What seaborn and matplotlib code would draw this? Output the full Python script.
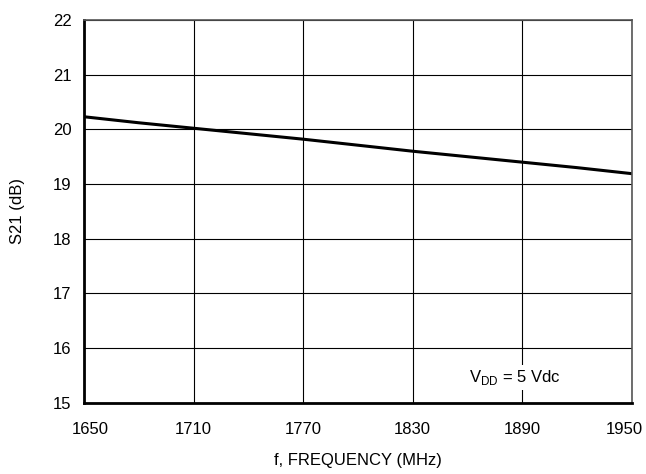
import matplotlib
matplotlib.use("Agg")
import matplotlib.pyplot as plt
import matplotlib.transforms as mtransforms
import seaborn as sns
import pandas as pd

freq = [1650, 1680, 1710, 1740, 1770, 1800, 1830, 1860, 1890, 1920, 1950]
s21 = [20.23, 20.12, 20.02, 19.92, 19.82, 19.71, 19.60, 19.50, 19.40, 19.30, 19.19]
xticks = [1650, 1710, 1770, 1830, 1890, 1950]
yticks = [15, 16, 17, 18, 19, 20, 21, 22]

sns.set_style("white")
plt.rcParams['font.family'] = ['Liberation Sans', 'DejaVu Sans']
plt.rcParams['text.color'] = 'black'
plt.rcParams['axes.labelcolor'] = 'black'
plt.rcParams['xtick.color'] = 'black'
plt.rcParams['ytick.color'] = 'black'

df = pd.DataFrame({'f': freq, 's21': s21})

fig = plt.figure(figsize=(6.46, 4.74), dpi=100)
ax = fig.add_axes([0.130, 0.150, 0.848, 0.808])
sns.lineplot(data=df, x='f', y='s21', color='black', linewidth=2.2, ax=ax)

ax.set_xlim(1650, 1950)
ax.set_ylim(15, 22)
ax.set_xticks(xticks)
ax.set_yticks(yticks)
ax.grid(True, color='black', linewidth=0.8)
ax.tick_params(axis='y', labelsize=12, length=0, pad=9)
ax.tick_params(axis='x', labelsize=12, length=0, pad=14)
ax.set_xlabel('f, FREQUENCY (MHz)', fontsize=12, labelpad=11)
ax.set_ylabel('S21 (dB)', fontsize=12, labelpad=20)

# nudge the end labels inward like the reference
labels = ax.get_xticklabels()
labels[0].set_transform(labels[0].get_transform() + mtransforms.ScaledTranslation(6/100, 0, fig.dpi_scale_trans))
labels[-1].set_transform(labels[-1].get_transform() + mtransforms.ScaledTranslation(-7/100, 0, fig.dpi_scale_trans))

for side in ['top', 'right']:
    ax.spines[side].set_color('#555555')
    ax.spines[side].set_linewidth(1.2)
for side in ['left', 'bottom']:
    ax.spines[side].set_color('black')
    ax.spines[side].set_linewidth(2)

ax.text(1886, 15.47, r'V$_{\mathregular{DD}}$ = 5 Vdc', fontsize=12, ha='center', va='center',
        bbox=dict(facecolor='white', edgecolor='none', pad=2))

fig.savefig('out.png', dpi=100)
